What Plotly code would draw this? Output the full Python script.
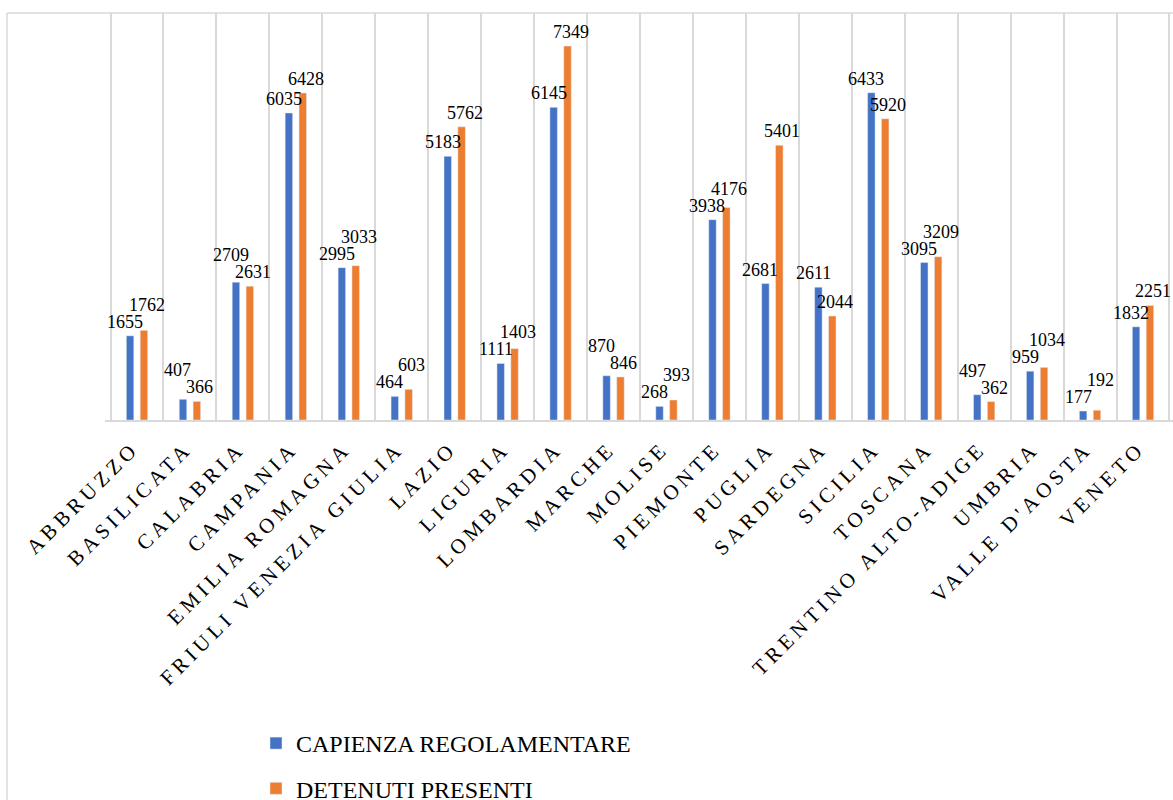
import plotly.graph_objects as go

regions = ["ABBRUZZO", "BASILICATA", "CALABRIA", "CAMPANIA", "EMILIA ROMAGNA",
           "FRIULI VENEZIA GIULIA", "LAZIO", "LIGURIA", "LOMBARDIA", "MARCHE",
           "MOLISE", "PIEMONTE", "PUGLIA", "SARDEGNA", "SICILIA", "TOSCANA",
           "TRENTINO ALTO-ADIGE", "UMBRIA", "VALLE D'AOSTA", "VENETO"]
capienza = [1655, 407, 2709, 6035, 2995, 464, 5183, 1111, 6145, 870,
            268, 3938, 2681, 2611, 6433, 3095, 497, 959, 177, 1832]
detenuti = [1762, 366, 2631, 6428, 3033, 603, 5762, 1403, 7349, 846,
            393, 4176, 5401, 2044, 5920, 3209, 362, 1034, 192, 2251]
series_names = ["CAPIENZA REGOLAMENTARE", "DETENUTI PRESENTI"]

BLUE = "#4472C4"
ORANGE = "#ED7D31"
GRID = "#d9d9d9"
FONT = "Liberation Serif"

W, H = 1173, 800
M_L, M_R, M_T, M_B = 105, 0, 13, 380
Y_MAX = 8000
plot_h = H - M_T - M_B
k = plot_h / Y_MAX  # px per unit

fig = go.Figure()
fig.add_trace(go.Bar(x=regions, y=capienza, name=series_names[0],
                     marker_color=BLUE, legendgroup="a"))
fig.add_trace(go.Bar(x=regions, y=detenuti, name=series_names[1],
                     marker_color=ORANGE, legendgroup="b"))

# data labels, placed above bars, nudged apart when they would collide
GAP = 2
SEP = 17
annotations = []
for reg, vb, vo in zip(regions, capienza, detenuti):
    hb = vb * k + GAP
    ho = vo * k + GAP
    if abs(hb - ho) < SEP:
        if vo >= vb:
            ho = hb + SEP
        else:
            hb = ho + SEP
    annotations.append(dict(x=reg, y=vb, xref="x", yref="y", text=str(vb),
                            showarrow=False, yanchor="bottom", xanchor="center",
                            xshift=-12, yshift=hb - vb * k,
                            font=dict(family=FONT, size=18, color="black")))
    annotations.append(dict(x=reg, y=vo, xref="x", yref="y", text=str(vo),
                            showarrow=False, yanchor="bottom", xanchor="center",
                            xshift=10, yshift=ho - vo * k,
                            font=dict(family=FONT, size=18, color="black")))

x_left = (7 - M_L) / (W - M_L - M_R)
shapes = [
    dict(type="line", xref="paper", yref="paper", x0=x_left, x1=1.05, y0=1, y1=1,
         line=dict(color=GRID, width=1.5)),
    dict(type="line", xref="paper", yref="paper", x0=x_left, x1=x_left, y0=1, y1=-1.2,
         line=dict(color=GRID, width=1.5)),
]

fig.update_layout(
    width=W, height=H,
    margin=dict(l=M_L, r=M_R, t=M_T, b=M_B, pad=0, autoexpand=False),
    paper_bgcolor="white", plot_bgcolor="white",
    barmode="group", bargap=0.476, bargroupgap=0.46,
    font=dict(family=FONT, color="black"),
    annotations=annotations,
    shapes=shapes,
    showlegend=True,
    legend=dict(orientation="v", traceorder="grouped", tracegroupgap=11,
                xref="container", yref="container",
                x=256 / W, y=1 - 721 / H, xanchor="left", yanchor="top",
                font=dict(family=FONT, size=24, color="black"),
                bgcolor="rgba(0,0,0,0)", itemclick=False),
    xaxis=dict(type="category", tickson="boundaries", showgrid=True,
               tickmode="array", tickvals=regions, ticktext=regions,
               gridcolor=GRID, gridwidth=1.5, showline=True, linecolor=GRID,
               linewidth=2, ticks="", tickangle=-45, automargin=False,
               ticklabelstandoff=6, ticklabelshift=-4,
               tickfont=dict(family=FONT, size=21, color="black")),
    yaxis=dict(range=[0, Y_MAX], showgrid=False, zeroline=False,
               showticklabels=False, showline=False, automargin=False),
)

# letter-spaced category labels, as in the original chart
post = ("var s=document.createElement('style');"
        "s.textContent='.xtick text{letter-spacing:4.5px;}';"
        "document.head.appendChild(s);")
fig.write_html("out.html", post_script=post)
